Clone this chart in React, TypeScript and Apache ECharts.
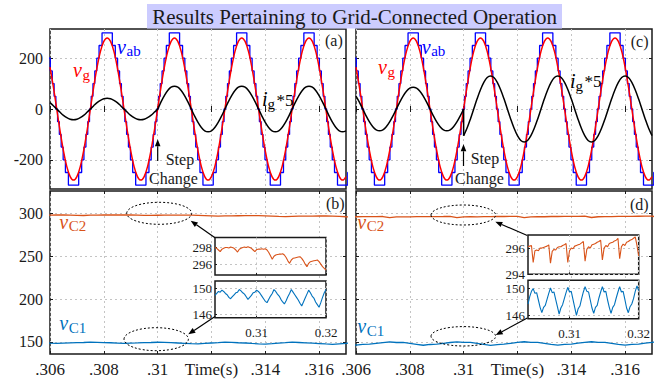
import React, { useEffect, useRef } from 'react';
import * as echarts from 'echarts';

// ---------------- data ----------------
// top panels: samples every 0.125 ms starting at t = 0.306 s
const topT0 = 0.306;
const topDt = 0.000125;

// grid voltage v_g (V)
const vgValues = [
  165, 87, 0, -87, -165, -227, -266, -280, -266, -227, -165, -87, 0, 87, 165, 227, 266, 280, 266, 227,
  165, 87, 0, -87, -165, -227, -266, -280, -266, -227, -165, -87, 0, 87, 165, 227, 266, 280, 266, 227,
  165, 87, 0, -87, -165, -227, -266, -280, -266, -227, -165, -87, 0, 87, 165, 227, 266, 280, 266, 227,
  165, 87, 0, -87, -165, -227, -266, -280, -266, -227, -165, -87, 0, 87, 165, 227, 266, 280, 266, 227,
  165, 87, 0, -87, -165, -227, -266, -280, -266,
];

// panel (a): i_g*5, unity power factor, step change at 0.31 s
const igAValues = [
  25, 13, 0, -13, -25, -34, -40, -42, -40, -34, -25, -13, 0, 13, 25, 34, 40, 42, 40, 34,
  25, 13, 0, -13, -25, -34, -40, -42, -40, -34, -25, -13, 0,
  28, 53, 73, 86, 90, 86, 73, 53, 28, 0, -28, -53, -73, -86, -90, -86, -73, -53, -28, 0,
  28, 53, 73, 86, 90, 86, 73, 53, 28, 0, -28, -53, -73, -86, -90, -86, -73, -53, -28, 0,
  28, 53, 73, 86, 90, 86, 73, 53, 28, 0, -28, -53, -73, -86, -90, -86,
];

// panel (c): i_g*5 before the step (samples 0..32)
const igCBeforeValues = [
  51, 27, 0, -27, -51, -70, -82, -86, -82, -70, -51, -27, 0, 27, 51, 70, 82, 86, 82, 70,
  51, 27, 0, -27, -51, -70, -82, -86, -82, -70, -51, -27, 0,
];
// panel (c): i_g*5 after the step (samples 32..88), lagging current
const igCAfterStart = 32;
const igCAfterValues = [
  -105, -76, -40, 0, 40, 76, 105, 124, 130, 124, 105, 76, 40, 0, -40, -76, -105, -124, -130, -124,
  -105, -76, -40, 0, 40, 76, 105, 124, 130, 124, 105, 76, 40, 0, -40, -76, -105, -124, -130, -124,
  -105, -76, -40, 0, 40, 76, 105, 124, 130, 124, 105, 76, 40, 0, -40, -76, -105,
];

// inverter output v_ab staircase: half-cycle start times, polarity, switching offsets and levels
const vabHalfStarts = [0.305, 0.30625, 0.3075, 0.30875, 0.31, 0.31125, 0.3125, 0.31375, 0.315, 0.31625];
const vabHalfSigns = [1, -1, 1, -1, 1, -1, 1, -1, 1, -1];
const vabStepOffsetsMs = [0.032, 0.097, 0.165, 0.239, 0.323, 0.434, 0.816, 0.927, 1.011, 1.085, 1.153, 1.218];
const vabStepLevels = [50, 100, 150, 200, 250, 300, 250, 200, 150, 100, 50, 0];

// capacitor voltages: samples every 0.25 ms starting at t = 0.304 s
const capT0 = 0.304;
const capDt = 0.00025;
const vC2bValues = [
  298.0, 297.9, 297.7, 297.5, 297.8, 297.9, 298.0, 298.0, 297.95, 298.05,
  298.0, 297.9, 297.7, 297.45, 297.8, 297.9, 298.0, 298.05, 298.0, 298.1,
  298.0, 297.9, 297.7, 297.5, 297.75, 297.8, 297.8, 297.85, 297.8, 297.85,
  297.7, 297.4, 297.0, 296.6, 296.95, 297.1, 297.15, 297.2, 297.2, 297.25,
  297.1, 296.8, 296.4, 296.1, 296.5, 296.7, 296.75, 296.8, 296.85, 296.9,
  296.7, 296.4, 296.0, 295.7, 296.1, 296.3, 296.35, 296.4, 296.45, 296.5,
  296.3, 296.0, 295.7, 295.5, 295.3,
];
const vC1bValues = [
  148.9, 149.2, 149.5, 149.4, 149.7, 149.5, 149.2, 149.0, 148.6, 148.4,
  148.7, 149.0, 149.3, 149.4, 149.8, 149.6, 149.3, 149.1, 148.7, 148.3,
  148.6, 148.9, 149.3, 149.4, 149.7, 149.5, 149.2, 148.8, 148.4, 148.0,
  147.8, 148.3, 148.8, 149.2, 149.8, 149.5, 149.1, 148.8, 148.3, 147.9,
  147.6, 148.1, 148.7, 149.2, 149.8, 149.4, 149.0, 148.6, 148.2, 147.7,
  147.3, 147.9, 148.5, 149.1, 149.7, 149.3, 148.8, 148.5, 147.9, 147.5,
  147.1, 147.8, 148.6, 149.3, 149.8,
];
const vC2dValues = [
  296.1, 296.15, 296.2, 294.9, 295.8, 295.85, 295.8, 296.0, 296.0, 296.05,
  296.1, 296.15, 296.25, 294.85, 295.75, 295.9, 295.85, 296.05, 296.1, 296.1,
  296.2, 296.25, 296.35, 294.9, 295.8, 296.0, 295.95, 296.15, 296.2, 296.25,
  296.3, 296.4, 296.5, 295.0, 295.9, 296.1, 296.0, 296.25, 296.3, 296.35,
  296.45, 296.5, 296.6, 295.1, 296.0, 296.2, 296.1, 296.35, 296.4, 296.45,
  296.55, 296.6, 296.75, 295.2, 296.1, 296.3, 296.2, 296.45, 296.5, 296.6,
  296.65, 296.75, 296.85, 296.2, 295.4,
];
const vC1dValues = [
  147.7, 148.8, 149.6, 150.0, 149.3, 149.4, 148.3, 147.2, 146.4, 147.2,
  147.5, 148.4, 149.3, 150.1, 149.4, 149.5, 148.4, 147.3, 146.2, 147.1,
  147.6, 148.5, 149.4, 150.2, 149.5, 149.6, 148.4, 147.2, 146.0, 147.0,
  147.4, 148.5, 149.5, 150.3, 149.6, 149.5, 148.3, 147.1, 146.3, 147.2,
  147.5, 148.6, 149.5, 150.3, 149.5, 149.6, 148.3, 147.2, 146.3, 147.2,
  147.6, 148.6, 149.5, 150.3, 149.5, 149.6, 148.4, 147.1, 146.4, 147.3,
  147.7, 148.5, 149.6, 150.4, 149.7,
];

// ticks
const xTicks = [0.306, 0.308, 0.31, 0.312, 0.314, 0.316];
const xTickLabels = ['.306', '.308', '.31', 'Time(s)', '.314', '.316'];
const topYTicks = [-200, 0, 200];
const bottomYTicks = [150, 200, 250, 300];
const insetXTicks = [0.31, 0.32];
const insetXTickLabels = ['0.31', '0.32'];
const insetC2bTicks = [296, 298];
const insetC1Ticks = [146, 150];
const insetC2dTicks = [294, 296];

// ---------------- styling / layout ----------------
const SERIF = "'Liberation Serif', 'DejaVu Serif', serif";
const GRID_LINE = { color: '#c4c4c4', width: 1, type: [2, 3] };
const INK = '#1a1a1a';
const C_BLUE = '#0000ff';
const C_RED = '#ff0000';
const C_ORANGE = '#d95319';
const C_MBLUE = '#0072bd';

const series = (t0: number, dt: number, vals: number[], offset = 0) =>
  vals.map((v, i) => [t0 + (i + offset) * dt, v]);

const fmt = (ticks: number[], labels: string[]) => (v: number) => {
  const i = ticks.findIndex((t) => Math.abs(t - v) < 1e-9);
  return i >= 0 ? labels[i] : '';
};

function buildOption() {
  const grids: any[] = [];
  const xAxes: any[] = [];
  const yAxes: any[] = [];
  const allSeries: any[] = [];

  const addGrid = (g: any) => {
    grids.push(g);
    return grids.length - 1;
  };

  const mainGrid = (left: number, top: number, width: number, height: number) =>
    addGrid({ left, top, width, height, show: true, borderColor: INK, borderWidth: 1.5, backgroundColor: 'transparent', z: 0 });

  const addMainAxes = (gi: number, yMin: number, yMax: number, yTicks: number[], showX: boolean, showY: boolean) => {
    xAxes.push({
      type: 'value', gridIndex: gi, min: 0.306, max: 0.317,
      axisLine: { show: false },
      axisTick: { show: true, inside: true, length: 3, customValues: xTicks, lineStyle: { color: INK } },
      axisLabel: { show: showX, customValues: xTicks, formatter: fmt(xTicks, xTickLabels), fontFamily: SERIF, fontSize: 17, color: INK, margin: 7 },
      splitLine: { show: true, lineStyle: GRID_LINE },
    });
    const xi = xAxes.length - 1;
    xAxes.push({
      type: 'value', gridIndex: gi, position: 'top', min: 0.306, max: 0.317,
      axisLine: { show: false },
      axisTick: { show: true, inside: true, length: 3, customValues: xTicks, lineStyle: { color: INK } },
      axisLabel: { show: false }, splitLine: { show: false },
    });
    yAxes.push({
      type: 'value', gridIndex: gi, min: yMin, max: yMax,
      axisLine: { show: false },
      axisTick: { show: true, inside: true, length: 3, customValues: yTicks, lineStyle: { color: INK } },
      axisLabel: { show: showY, customValues: yTicks, fontFamily: SERIF, fontSize: 16, color: INK, margin: 7 },
      splitLine: { show: true, lineStyle: GRID_LINE },
    });
    const yi = yAxes.length - 1;
    yAxes.push({
      type: 'value', gridIndex: gi, position: 'right', min: yMin, max: yMax,
      axisLine: { show: false },
      axisTick: { show: true, inside: true, length: 3, customValues: yTicks, lineStyle: { color: INK } },
      axisLabel: { show: false }, splitLine: { show: false },
    });
    return { xi, yi };
  };

  const addInset = (left: number, top: number, width: number, height: number, yMin: number, yMax: number, yTicks: number[], showX: boolean) => {
    const gi = addGrid({ left, top, width, height, show: true, backgroundColor: '#ffffff', borderColor: INK, borderWidth: 1.5, z: 5 });
    xAxes.push({
      type: 'value', gridIndex: gi, min: 0.304, max: 0.32, z: 6,
      axisLine: { show: false },
      axisTick: { show: true, inside: true, length: 2, customValues: insetXTicks, lineStyle: { color: INK } },
      axisLabel: { show: showX, customValues: insetXTicks, formatter: fmt(insetXTicks, insetXTickLabels), fontFamily: SERIF, fontSize: 13, color: INK, margin: 8 },
      splitLine: { show: true, lineStyle: GRID_LINE },
    });
    const xi = xAxes.length - 1;
    yAxes.push({
      type: 'value', gridIndex: gi, min: yMin, max: yMax, z: 6,
      axisLine: { show: false },
      axisTick: { show: true, inside: true, length: 2, customValues: yTicks, lineStyle: { color: INK } },
      axisLabel: { show: true, customValues: yTicks, fontFamily: SERIF, fontSize: 13, color: INK, margin: 3 },
      splitLine: { show: true, lineStyle: GRID_LINE },
    });
    const yi = yAxes.length - 1;
    return { xi, yi };
  };

  const line = (ax: { xi: number; yi: number }, data: any[], color: string, width: number, extra: any = {}) => {
    allSeries.push({
      type: 'line', xAxisIndex: ax.xi, yAxisIndex: ax.yi, data, symbol: 'none', showSymbol: false,
      lineStyle: { color, width }, itemStyle: { color }, silent: true, clip: true, ...extra,
    });
  };

  // data tables
  const vabPoints: number[][] = [];
  vabHalfStarts.forEach((t0, h) => {
    if (h === 0) vabPoints.push([t0, 0]);
    vabStepOffsetsMs.forEach((off, k) => {
      vabPoints.push([t0 + off / 1000, vabHalfSigns[h] * vabStepLevels[k]]);
    });
  });
  const vgPoints = series(topT0, topDt, vgValues);
  const igAPoints = series(topT0, topDt, igAValues);
  const igCBefore = series(topT0, topDt, igCBeforeValues);
  const igCAfter = series(topT0, topDt, igCAfterValues, igCAfterStart);
  const igCJump = [igCBefore[igCBefore.length - 1], igCAfter[0]];
  const vC2b = series(capT0, capDt, vC2bValues);
  const vC1b = series(capT0, capDt, vC1bValues);
  const vC2d = series(capT0, capDt, vC2dValues);
  const vC1d = series(capT0, capDt, vC1dValues);

  // panel (a)
  const ga = mainGrid(50, 29, 296, 160);
  const axA = addMainAxes(ga, -315, 315, topYTicks, false, true);
  line(axA, vabPoints, C_BLUE, 1.3, { step: 'end' });
  line(axA, vgPoints, C_RED, 1.5, { smooth: 0.35 });
  line(axA, igAPoints, '#000000', 1.5, { smooth: 0.35 });

  // panel (b)
  const gb = mainGrid(50, 191, 296, 163);
  const axB = addMainAxes(gb, 136, 326, bottomYTicks, true, true);
  line(axB, vC2b, C_ORANGE, 1.3);
  line(axB, vC1b, C_MBLUE, 1.3);

  // panel (c)
  const gc = mainGrid(356, 29, 296, 160);
  const axC = addMainAxes(gc, -315, 315, topYTicks, false, false);
  line(axC, vabPoints, C_BLUE, 1.3, { step: 'end' });
  line(axC, vgPoints, C_RED, 1.5, { smooth: 0.35 });
  line(axC, igCBefore, '#000000', 1.5, { smooth: 0.35 });
  line(axC, igCJump, '#000000', 1.5);
  line(axC, igCAfter, '#000000', 1.5, { smooth: 0.35 });

  // panel (d)
  const gd = mainGrid(356, 191, 296, 163);
  const axD = addMainAxes(gd, 136, 326, bottomYTicks, true, false);
  line(axD, vC2d, C_ORANGE, 1.3);
  line(axD, vC1d, C_MBLUE, 1.3);

  // insets
  const axBU = addInset(215, 237.5, 111, 37.5, 294.7, 299.2, insetC2bTicks, false);
  line(axBU, vC2b, C_ORANGE, 1.1, { z: 7 });
  const axBL = addInset(215, 281, 111, 36.7, 145.5, 151.1, insetC1Ticks, true);
  line(axBL, vC1b, C_MBLUE, 1.1, { z: 7 });
  const axDU = addInset(528, 235, 110.7, 39.3, 294, 297, insetC2dTicks, false);
  line(axDU, vC2d, C_ORANGE, 1.1, { z: 7 });
  const axDL = addInset(528, 280.3, 110.7, 38.4, 145.5, 151.25, insetC1Ticks, true);
  line(axDL, vC1d, C_MBLUE, 1.1, { z: 7 });

  // ---------- annotations ----------
  const g: any[] = [];
  const txt = (x: number, baseline: number, text: string, size: number, color: string, italic = false) => {
    g.push({
      type: 'text', x, y: baseline - 0.35 * size, z: 100, silent: true,
      style: { text, fill: color, fontFamily: SERIF, fontSize: size, fontStyle: italic ? 'italic' : 'normal', align: 'left', verticalAlign: 'middle' },
    });
  };
  const sub = (x: number, baseline: number, main: string, s: string, color: string, subDx = 9.5, subDy = 3) => {
    txt(x, baseline, main, 20, color, true);
    txt(x + subDx, baseline + subDy, s, 15, color);
  };
  const arrowTo = (x1: number, y1: number, x2: number, y2: number) => {
    const dx = x2 - x1;
    const dy = y2 - y1;
    const len = Math.sqrt(dx * dx + dy * dy);
    const ux = dx / len;
    const uy = dy / len;
    const hl = 7;
    const hw = 2.8;
    const bx = x2 - ux * hl;
    const by = y2 - uy * hl;
    g.push({ type: 'line', z: 100, silent: true, shape: { x1, y1, x2: bx, y2: by }, style: { stroke: '#000', lineWidth: 1.2 } });
    g.push({
      type: 'polygon', z: 100, silent: true,
      shape: { points: [[x2, y2], [bx - uy * hw, by + ux * hw], [bx + uy * hw, by - ux * hw]] },
      style: { fill: '#000' },
    });
  };
  const ellipse = (cx: number, cy: number, rx: number, ry: number) => {
    g.push({ type: 'ellipse', z: 100, silent: true, shape: { cx, cy, rx, ry }, style: { fill: 'none', stroke: '#000', lineWidth: 1, lineDash: [2, 2] } });
  };

  // title
  g.push({ type: 'rect', z: 100, silent: true, shape: { x: 147, y: 4, width: 415, height: 24.5 }, style: { fill: '#ccccff' } });
  g.push({
    type: 'text', z: 101, silent: true, x: 354.5, y: 16.5,
    style: { text: 'Results Pertaining to Grid-Connected Operation', fill: INK, fontFamily: SERIF, fontSize: 21, align: 'center', verticalAlign: 'middle' },
  });

  // panel (a)
  sub(117, 53.5, 'v', 'ab', C_BLUE);
  sub(73, 77.3, 'v', 'g', C_RED);
  txt(262, 106, 'i', 20, '#000', true);
  txt(267.5, 109.5, 'g', 15, '#000');
  txt(276.5, 106, '*5', 17, '#000');
  txt(325, 46.5, '(a)', 16, INK);
  txt(165.7, 165.5, 'Step', 16, INK);
  txt(149, 184.5, 'Change', 16, INK);
  arrowTo(157.7, 161, 157.7, 139.3);

  // panel (c)
  sub(421.7, 53.5, 'v', 'ab', C_BLUE);
  sub(378, 73.8, 'v', 'g', C_RED);
  txt(570, 87.5, 'i', 20, '#000', true);
  txt(575.5, 91, 'g', 15, '#000');
  txt(584.5, 87.5, '*5', 17, '#000');
  txt(630.7, 47, '(c)', 16, INK);
  txt(470.7, 164.5, 'Step', 16, INK);
  txt(455, 184.5, 'Change', 16, INK);
  arrowTo(463.5, 166, 463.5, 144.3);

  // panel (b)
  sub(59.3, 228.5, 'v', 'C2', C_ORANGE);
  sub(59.3, 330, 'v', 'C1', C_MBLUE);
  txt(326, 209.5, '(b)', 16, INK);
  ellipse(159.2, 213.3, 32.5, 11);
  ellipse(156.2, 339.2, 32.2, 11.5);
  arrowTo(215, 237.7, 190.7, 220.7);
  arrowTo(215, 316.5, 188.3, 334.3);

  // panel (d)
  sub(357.3, 228.5, 'v', 'C2', C_ORANGE);
  sub(357.3, 333, 'v', 'C1', C_MBLUE);
  txt(630, 210.5, '(d)', 16, INK);
  ellipse(463.3, 215, 32.3, 10);
  ellipse(463.3, 336.3, 32.3, 9.7);
  arrowTo(527.3, 235.5, 495.3, 221.7);
  arrowTo(527.3, 318, 495.7, 335);

  return {
    animation: false,
    backgroundColor: '#ffffff',
    grid: grids,
    xAxis: xAxes,
    yAxis: yAxes,
    series: allSeries,
    graphic: { elements: g },
  };
}

export default function App() {
  const ref = useRef<HTMLDivElement>(null);
  useEffect(() => {
    document.body.style.margin = '0';
    if (!ref.current) return;
    const chart = echarts.init(ref.current, null, { renderer: 'svg' });
    chart.setOption(buildOption() as any);
    return () => chart.dispose();
  }, []);
  return <div ref={ref} style={{ width: 661, height: 386 }} />;
}
